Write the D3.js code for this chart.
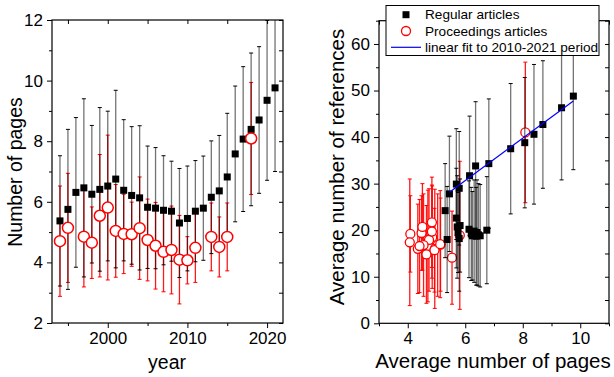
<!DOCTYPE html>
<html>
<head>
<meta charset="utf-8">
<script src="https://cdn.jsdelivr.net/npm/d3@7"></script>
<style>
  body { margin: 0; background: #fff; }
  svg { display: block; font-family: "Liberation Sans", Arial, sans-serif; }
</style>
</head>
<body>
<div id="chart"></div>
<script>
// Regular articles, per year (pages and references: mean and sd)
const years = d3.range(1994, 2022);
const regPages = [5.37, 5.75, 6.31, 6.46, 6.25, 6.41, 6.52, 6.75, 6.38, 6.21, 6.13, 5.82, 5.79, 5.72,
  5.69, 5.30, 5.45, 5.69, 5.79, 6.15, 6.36, 6.82, 7.58, 8.07, 8.39, 8.70, 9.35, 9.76];
const regPagesSd = [2.15, 2.64, 2.47, 2.94, 2.27, 2.70, 2.47, 2.93, 2.33, 2.27, 2.38, 2.02, 2.00, 1.80,
  1.65, 1.80, 1.73, 1.67, 1.72, 1.86, 1.83, 2.10, 2.24, 2.39, 2.52, 2.42, 2.64, 2.76];
const regRefs = [18.0, 19.5, 19.8, 19.0, 18.8, 19.5, 18.8, 20.0, 18.7, 19.2, 20.2, 21.0, 18.2, 20.7,
  22.6, 24.2, 27.8, 29.9, 29.0, 31.7, 33.8, 34.3, 37.5, 38.8, 40.6, 42.7, 46.3, 48.8];
const regRefsSd = [11.4, 8.6, 11.0, 11.0, 9.5, 11.3, 11.0, 11.5, 10.5, 10.0, 10.4, 10.0, 11.3, 11.0,
  10.7, 10.1, 12.4, 11.9, 12.2, 12.8, 13.8, 13.9, 14.0, 14.0, 15.0, 13.7, 15.5, 15.8];

// Proceedings articles
const procYears = [1994, 1995, 1997, 1998, 1999, 2000, 2001, 2002, 2003, 2004, 2005, 2006, 2007, 2008,
  2009, 2010, 2011, 2013, 2014, 2015, 2018];
const procPages = [4.70, 5.14, 4.85, 4.65, 5.54, 5.81, 5.04, 4.94, 4.93, 5.13, 4.74, 4.55, 4.35, 4.41,
  4.09, 4.07, 4.48, 4.84, 4.51, 4.84, 8.09];
const procPagesSd = [1.82, 1.80, 1.66, 1.18, 2.02, 2.39, 1.53, 1.31, 1.06, 1.69, 1.35, 1.43, 1.32, 1.45,
  1.46, 0.78, 1.14, 1.12, 0.99, 1.12, 1.85];
const procRefs = [16.6, 16.9, 18.5, 14.8, 14.1, 18.9, 16.8, 16.0, 15.7, 17.0, 17.9, 16.8, 16.0, 16.6,
  19.2, 17.4, 19.4, 21.7, 20.7, 19.7, 41.0];
const procRefsSd = [12.0, 10.0, 11.0, 10.5, 10.0, 15.9, 11.0, 12.8, 9.0, 11.5, 11.0, 11.0, 9.6, 10.0,
  8.2, 13.6, 8.0, 9.7, 9.3, 10.0, 15.1];

const fitFrom = 2010, fitTo = 2021;
const legendLabels = ["Regular articles", "Proceedings articles", "linear fit to 2010-2021 period"];

// build row objects
const reg = years.map((y, i) => ({ year: y, pages: regPages[i], pagesSd: regPagesSd[i], refs: regRefs[i], refsSd: regRefsSd[i] }));
const proc = procYears.map((y, i) => ({ year: y, pages: procPages[i], pagesSd: procPagesSd[i], refs: procRefs[i], refsSd: procRefsSd[i] }));

const W = 614, H = 377;
const svg = d3.select("#chart").append("svg").attr("width", W).attr("height", H);

const RED = "#ff0000";
const tickFont = 17;

// generic frame + axes helper
function frame(g, x, y, xMajor, xMinor, yMajor, yMinor, xFmt, yFmt) {
  const [x0, x1] = x.range(), [y0, y1] = y.range();
  const ax = (gen, tr, vals, size, fmt) => {
    const a = g.append("g").attr("transform", tr)
      .call(gen.tickValues(vals).tickSize(size).tickSizeOuter(0).tickPadding(4).tickFormat(fmt || ""));
    a.select(".domain").remove();
    a.selectAll("line").attr("stroke", "#000");
    a.selectAll("text").style("font-size", tickFont + "px").attr("fill", "#000");
    return a;
  };
  // bottom/left outward, top/right inward
  ax(d3.axisBottom(x), `translate(0,${y0})`, xMajor, 5, xFmt);
  ax(d3.axisBottom(x), `translate(0,${y0})`, xMinor, 3);
  ax(d3.axisLeft(y), `translate(${x0},0)`, yMajor, 5, yFmt);
  ax(d3.axisLeft(y), `translate(${x0},0)`, yMinor, 3);
  ax(d3.axisBottom(x), `translate(0,${y1})`, xMajor.concat(xMinor), 4);
  ax(d3.axisLeft(y), `translate(${x1},0)`, yMajor.concat(yMinor), 4);
  g.append("rect").attr("x", x0).attr("y", y1).attr("width", x1 - x0).attr("height", y0 - y1)
    .attr("fill", "none").attr("stroke", "#000").attr("stroke-width", 1.2);
}

function errBars(g, data, xf, yf, sdf, y, color, opacity, cap) {
  const e = g.append("g");
  data.forEach(d => {
    const cx = xf(d), lo = y(yf(d) - sdf(d)), hi = y(yf(d) + sdf(d));
    e.append("line").attr("x1", cx).attr("x2", cx).attr("y1", lo).attr("y2", hi)
      .attr("stroke", color).attr("stroke-opacity", opacity).attr("stroke-width", 1.3);
    [lo, hi].forEach(v => e.append("line").attr("x1", cx - cap).attr("x2", cx + cap).attr("y1", v).attr("y2", v)
      .attr("stroke", color).attr("stroke-width", 1));
  });
}

// ---------- left panel: pages vs year ----------
const xL = d3.scaleLinear().domain([1993, 2022]).range([52, 283]);
const yL = d3.scaleLinear().domain([2, 12]).range([323, 20]);
const gL = svg.append("g");
gL.append("clipPath").attr("id", "clipL").append("rect")
  .attr("x", 52).attr("y", 20).attr("width", 231).attr("height", 303);
const pL = gL.append("g").attr("clip-path", "url(#clipL)");

errBars(pL, proc, d => xL(d.year), d => d.pages, d => d.pagesSd, yL, RED, 0.9, 2);
errBars(pL, reg, d => xL(d.year), d => d.pages, d => d.pagesSd, yL, "#000", 0.55, 2);
pL.selectAll(".sq").data(reg).enter().append("rect")
  .attr("x", d => xL(d.year) - 3.5).attr("y", d => yL(d.pages) - 3.5)
  .attr("width", 7).attr("height", 7).attr("fill", "#000");
pL.selectAll(".ci").data(proc).enter().append("circle")
  .attr("cx", d => xL(d.year)).attr("cy", d => yL(d.pages)).attr("r", 5.5)
  .attr("fill", "#fff").attr("stroke", RED).attr("stroke-width", 1.5);

frame(gL, xL, yL, [2000, 2010, 2020], [1995, 2005, 2015], [2, 4, 6, 8, 10, 12], [3, 5, 7, 9, 11],
  d3.format("d"), d3.format("d"));

gL.append("text").attr("x", 167).attr("y", 369).attr("text-anchor", "middle")
  .style("font-size", "19.5px").text("year");
gL.append("text").attr("transform", "translate(22,172) rotate(-90)").attr("text-anchor", "middle")
  .style("font-size", "19.5px").text("Number of pages");

// ---------- right panel: references vs pages ----------
const xR = d3.scaleLinear().domain([3, 11]).range([379, 609]);
const yR = d3.scaleLinear().domain([0, 65]).range([323.3, 20.7]);
const gR = svg.append("g");
gR.append("clipPath").attr("id", "clipR").append("rect")
  .attr("x", 379).attr("y", 20.7).attr("width", 230).attr("height", 302.6);
const pR = gR.append("g").attr("clip-path", "url(#clipR)");

errBars(pR, proc, d => xR(d.pages), d => d.refs, d => d.refsSd, yR, RED, 0.9, 2);
pR.selectAll(".ci").data(proc).enter().append("circle")
  .attr("cx", d => xR(d.pages)).attr("cy", d => yR(d.refs)).attr("r", 4.5)
  .attr("fill", "#fff").attr("stroke", RED).attr("stroke-width", 1.3);
errBars(pR, reg, d => xR(d.pages), d => d.refs, d => d.refsSd, yR, "#000", 0.55, 2);
pR.selectAll(".sq").data(reg).enter().append("rect")
  .attr("x", d => xR(d.pages) - 3.5).attr("y", d => yR(d.refs) - 3.5)
  .attr("width", 7).attr("height", 7).attr("fill", "#000");

// least-squares fit over 2010-2021 regular articles
const fitData = reg.filter(d => d.year >= fitFrom && d.year <= fitTo);
const mx = d3.mean(fitData, d => d.pages), my = d3.mean(fitData, d => d.refs);
const slope = d3.sum(fitData, d => (d.pages - mx) * (d.refs - my)) / d3.sum(fitData, d => (d.pages - mx) ** 2);
const icpt = my - slope * mx;
const fx = d3.extent(fitData, d => d.pages);
pR.append("path")
  .datum(fx.map(v => [v, icpt + slope * v]))
  .attr("d", d3.line().x(d => xR(d[0])).y(d => yR(d[1])))
  .attr("stroke", "#0000ff").attr("stroke-width", 1.2).attr("fill", "none");

frame(gR, xR, yR, [4, 6, 8, 10], [3, 5, 7, 9, 11], [0, 10, 20, 30, 40, 50, 60], [5, 15, 25, 35, 45, 55, 65],
  d3.format("d"), d3.format("d"));

gR.append("text").attr("x", 493).attr("y", 368).attr("text-anchor", "middle")
  .style("font-size", "20.5px").text("Average number of pages");
gR.append("text").attr("transform", "translate(344,167) rotate(-90)").attr("text-anchor", "middle")
  .style("font-size", "20.5px").text("Average number of references");

// legend
const lg = gR.append("g");
lg.append("rect").attr("x", 386).attr("y", 5.5).attr("width", 213).attr("height", 50)
  .attr("fill", "#fff").attr("stroke", "#000").attr("stroke-width", 1);
const rowY = [14.7, 31, 47.3];
lg.append("rect").attr("x", 402.5).attr("y", rowY[0] - 3.5).attr("width", 7).attr("height", 7).attr("fill", "#000");
lg.append("circle").attr("cx", 406).attr("cy", rowY[1]).attr("r", 4.5)
  .attr("fill", "#fff").attr("stroke", RED).attr("stroke-width", 1.3);
lg.append("line").attr("x1", 391).attr("x2", 421).attr("y1", rowY[2]).attr("y2", rowY[2])
  .attr("stroke", "#0000ff").attr("stroke-width", 1.2);
legendLabels.forEach((t, i) => {
  lg.append("text").attr("x", 425).attr("y", rowY[i]).attr("dy", "0.35em")
    .style("font-size", "13.6px").text(t);
});
</script>
</body>
</html>
